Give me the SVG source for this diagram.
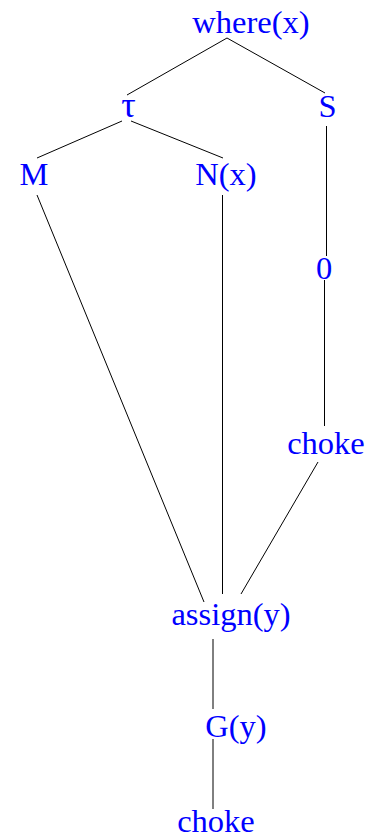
<svg xmlns="http://www.w3.org/2000/svg" width="369" height="838" viewBox="0 0 369 838">
<style>
text{font-family:"Liberation Serif","Times New Roman",serif;font-size:32.5px;fill:#0000ff;text-anchor:middle}
.e line{stroke:#000;stroke-width:1;fill:none}
</style>
<rect width="369" height="838" fill="#fff"/>
<g class="e" id="edges">
<line x1="227" y1="38" x2="127" y2="95"/>
<line x1="227" y1="38" x2="325" y2="93"/>
<line x1="122" y1="121" x2="37" y2="158"/>
<line x1="131" y1="121" x2="223" y2="158"/>
<line x1="37" y1="195" x2="204" y2="602"/>
<line x1="222.5" y1="195" x2="222.5" y2="594"/>
<line x1="326.5" y1="126" x2="326.5" y2="256"/>
<line x1="324.5" y1="280" x2="324.5" y2="426"/>
<line x1="318" y1="462" x2="241" y2="594"/>
<line x1="213" y1="639" x2="213" y2="709"/>
<line x1="213" y1="739" x2="213" y2="809"/>
</g>
<g id="where"><text x="251" y="33">where(x)</text></g>
<g id="tau"><text x="128.5" y="117" style="font-size:36px">τ</text></g>
<g id="S"><text x="327.5" y="117">S</text></g>
<g id="M"><text x="34" y="185">M</text></g>
<g id="Nx"><text x="226" y="185">N(x)</text></g>
<g id="zero"><text x="324" y="279">0</text></g>
<g id="choke1"><text x="326" y="454">choke</text></g>
<g id="assign"><text x="231" y="625">assign(y)</text></g>
<g id="Gy"><text x="236" y="737">G(y)</text></g>
<g id="choke2"><text x="216" y="832">choke</text></g>
</svg>
